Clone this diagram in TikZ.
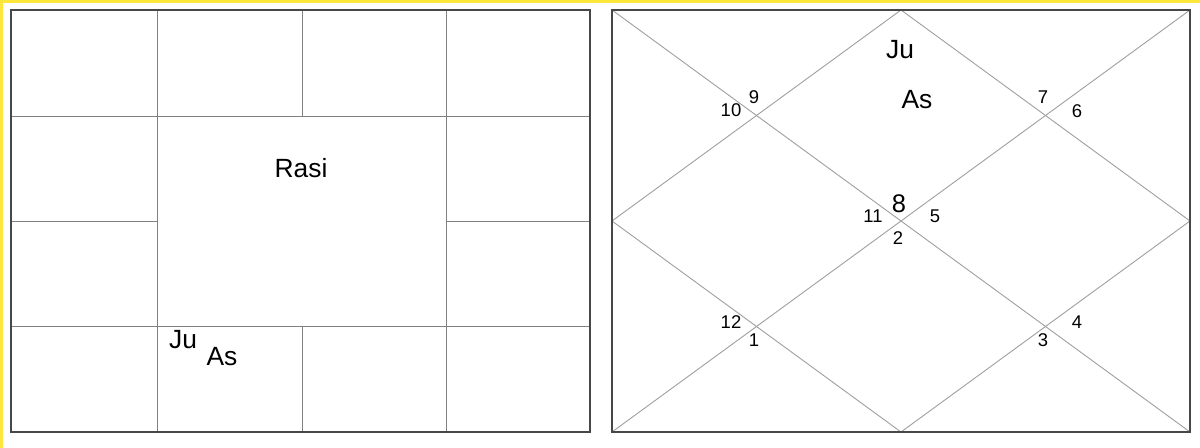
\documentclass[tikz,border=0pt]{standalone}
\usepackage{fontspec}
\setmainfont{Liberation Sans}
\usepackage{xcolor}
\usetikzlibrary{positioning}
\definecolor{edgeyellow}{HTML}{FFE63C}

\begin{document}
\begin{tikzpicture}[
  x=0.02cm, y=-0.02cm,
  frame/.style={draw=black!72, line width=1.3pt},
  cellline/.style={draw=black!50, line width=0.5pt},
  diagline/.style={draw=black!38, line width=0.5pt},
  planet/.style={inner sep=0pt, font=\fontsize{15}{17}\selectfont},
  housenum/.style={inner sep=0pt, font=\fontsize{10.5}{12}\selectfont},
  lagna/.style={inner sep=0pt, font=\fontsize{14.5}{16}\selectfont}
]
  \useasboundingbox (0,0) rectangle (1200,448);
  \fill[white] (0,0) rectangle (1200,448);
  \fill[edgeyellow] (0,0) rectangle (1200,3);
  \fill[edgeyellow] (0,0) rectangle (3,448);

  % Rasi chart
  \coordinate (r-nw) at (11,10);
  \coordinate (r-se) at (590,432);
  \draw[cellline] (157,10) -- (157,432);
  \draw[cellline] (446,10) -- (446,432);
  \draw[cellline] (302,10) -- (302,116);
  \draw[cellline] (302,326) -- (302,432);
  \draw[cellline] (11,116) -- (590,116);
  \draw[cellline] (11,326) -- (590,326);
  \draw[cellline] (11,221) -- (157,221);
  \draw[cellline] (446,221) -- (590,221);
  \draw[frame] (r-nw) rectangle (r-se);

  \node[planet] (rasi) at (301,168) {Rasi};
  \node[planet] (r-ju) at (183,340) {Ju};
  \node[planet] (r-as) at (222,357) {As};

  % Bhava chart
  \coordinate (b-nw) at (612,10);
  \coordinate (b-ne) at (1190,10);
  \coordinate (b-se) at (1190,432);
  \coordinate (b-sw) at (612,432);
  \coordinate (b-n) at (901,10);
  \coordinate (b-e) at (1190,221);
  \coordinate (b-s) at (901,432);
  \coordinate (b-w) at (612,221);
  \draw[diagline] (b-nw) -- (b-se);
  \draw[diagline] (b-ne) -- (b-sw);
  \draw[diagline] (b-n) -- (b-e) -- (b-s) -- (b-w) -- cycle;
  \draw[frame] (b-nw) rectangle (b-se);

  \node[planet] (b-ju) at (900,50) {Ju};
  \node[planet] (b-as) at (917,100) {As};

  \node[housenum] (h10) at (731,110) {10};
  \node[housenum] (h9) at (754,97) {9};
  \node[housenum] (h7) at (1043,97) {7};
  \node[housenum] (h6) at (1077,111) {6};
  \node[housenum] (h11) at (873,216) {11};
  \node[lagna] (h8) at (899,204) {8};
  \node[housenum] (h5) at (935,216) {5};
  \node[housenum] (h2) at (898,238) {2};
  \node[housenum] (h12) at (731,322) {12};
  \node[housenum] (h1) at (754,340) {1};
  \node[housenum] (h3) at (1043,340) {3};
  \node[housenum] (h4) at (1077,322) {4};
\end{tikzpicture}
\end{document}
